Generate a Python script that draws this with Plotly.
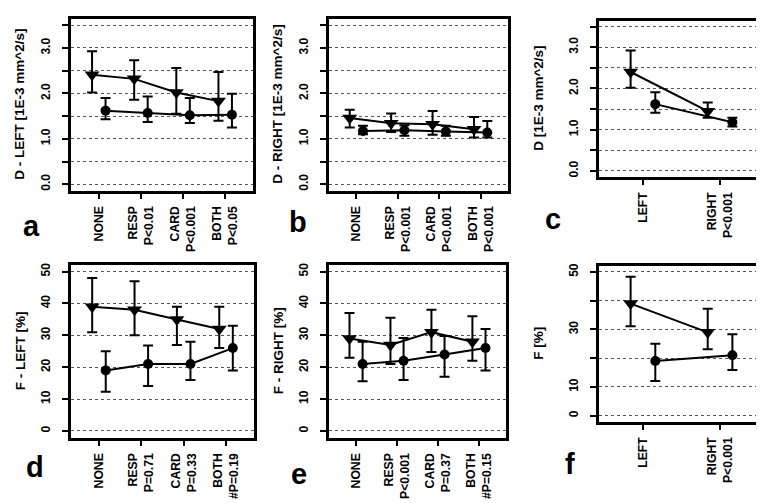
import plotly.graph_objects as go

# ---------------- data ----------------
lab_a = ["NONE", "RESP<br>P&lt;0.01", "CARD<br>P&lt;0.001", "BOTH<br>P&lt;0.05"]
lab_b = ["NONE", "RESP<br>P&lt;0.001", "CARD<br>P&lt;0.001", "BOTH<br>P&lt;0.001"]
lab_c = ["LEFT", "RIGHT<br>P&lt;0.001"]
lab_d = ["NONE", "RESP<br>P=0.71", "CARD<br>P=0.33", "BOTH<br>#P=0.19"]
lab_e = ["NONE", "RESP<br>P&lt;0.001", "CARD<br>P=0.37", "BOTH<br>#P=0.15"]
lab_f = ["LEFT", "RIGHT<br>P&lt;0.001"]

a_tri = [2.41, 2.32, 2.02, 1.83]
a_tri_hi = [2.93, 2.73, 2.56, 2.47]
a_tri_lo = [2.02, 1.86, 1.55, 1.40]
a_cir = [1.62, 1.57, 1.52, 1.53]
a_cir_hi = [1.90, 1.93, 1.90, 1.99]
a_cir_lo = [1.43, 1.37, 1.35, 1.25]

b_tri = [1.46, 1.34, 1.32, 1.21]
b_tri_hi = [1.64, 1.56, 1.61, 1.48]
b_tri_lo = [1.25, 1.15, 1.09, 1.03]
b_cir = [1.17, 1.19, 1.16, 1.14]
b_cir_hi = [1.29, 1.30, 1.29, 1.39]
b_cir_lo = [1.10, 1.07, 1.07, 1.03]

c_tri = [2.40, 1.45]
c_tri_hi = [2.92, 1.66]
c_tri_lo = [2.02, 1.29]
c_cir = [1.62, 1.18]
c_cir_hi = [1.91, 1.29]
c_cir_lo = [1.41, 1.08]

d_tri = [39, 38, 35, 32]
d_tri_hi = [48, 47, 39, 39]
d_tri_lo = [31, 30, 27, 26]
d_cir = [19, 21, 21, 26]
d_cir_hi = [25, 26.8, 28, 33]
d_cir_lo = [12.3, 14.1, 16, 19]

e_tri = [29, 27, 31, 28]
e_tri_hi = [37, 35.5, 38, 36]
e_tri_lo = [23, 21, 24.8, 22]
e_cir = [21, 22, 24, 26]
e_cir_hi = [28, 29.2, 29.8, 32]
e_cir_lo = [15.6, 16, 17, 19]

f_tri = [39, 29]
f_tri_hi = [48.3, 37.2]
f_tri_lo = [31.1, 23.1]
f_cir = [19, 21]
f_cir_hi = [25, 28.3]
f_cir_lo = [12.1, 15.9]

D_ticks = [0, 0.5, 1, 1.5, 2, 2.5, 3, 3.5]
D_ticktext = ["0.0", "", "1.0", "", "2.0", "", "3.0", ""]
F_ticks = [0, 10, 20, 30, 40, 50]
F_ticktext = ["0", "10", "20", "30", "40", "50"]
F_ticktext_f = ["0", "10", "", "30", "", "50"]

ytitles = ["D - LEFT [1E-3 mm^2/s]", "D - RIGHT [1E-3 mm^2/s]", "D [1E-3 mm^2/s]",
           "F - LEFT [%]", "F - RIGHT [%]", "F [%]"]
letters = ["a", "b", "c", "d", "e", "f"]

# ---------------- layout ----------------
W, H = 764, 503
FONT = "Liberation Sans, Arial, Helvetica, sans-serif"
boxes = [(63, 245, 8, 181), (321, 500, 8, 181), (591, 756, 10, 167),
         (63, 246, 256, 430), (321, 498, 256, 430), (591, 756, 257, 414)]
title_x = [12, 270, 531, 12, 270, 531]
letter_pos = [(23, 217), (290, 213), (545, 210), (27, 460), (291, 467), (562, 457)]

panels = [
    (lab_a, a_tri, a_tri_hi, a_tri_lo, a_cir, a_cir_hi, a_cir_lo, "D", D_ticktext),
    (lab_b, b_tri, b_tri_hi, b_tri_lo, b_cir, b_cir_hi, b_cir_lo, "D", D_ticktext),
    (lab_c, c_tri, c_tri_hi, c_tri_lo, c_cir, c_cir_hi, c_cir_lo, "D", D_ticktext),
    (lab_d, d_tri, d_tri_hi, d_tri_lo, d_cir, d_cir_hi, d_cir_lo, "F", F_ticktext),
    (lab_e, e_tri, e_tri_hi, e_tri_lo, e_cir, e_cir_hi, e_cir_lo, "F", F_ticktext),
    (lab_f, f_tri, f_tri_hi, f_tri_lo, f_cir, f_cir_hi, f_cir_lo, "F", F_ticktext_f),
]

OFF = 0.16
fig = go.Figure()
annotations = []
layout = {}

for i, (labs, tv, th, tl, cv, ch, cl, kind, ytt) in enumerate(panels):
    n = len(labs)
    xs = list(range(1, n + 1))
    ax = "" if i == 0 else str(i + 1)
    xref, yref = "x" + ax, "y" + ax
    for vals, hi, lo, sym, size, sgn in [(tv, th, tl, "triangle-down", 13, -1),
                                          (cv, ch, cl, "circle", 10, 1)]:
        fig.add_trace(go.Scatter(
            x=[x + sgn * OFF for x in xs], y=vals, xaxis=xref, yaxis=yref,
            mode="lines+markers",
            line=dict(color="black", width=2),
            marker=dict(symbol=sym, size=size, color="black"),
            error_y=dict(type="data", symmetric=False,
                         array=[h - v for h, v in zip(hi, vals)],
                         arrayminus=[v - l for l, v in zip(lo, vals)],
                         color="black", thickness=2, width=5),
            showlegend=False, hoverinfo="skip"))
    x0, x1, y0, y1 = boxes[i]
    xr = [0.34, 4.66] if n == 4 else [0.43, 2.57]
    yticks = D_ticks if kind == "D" else F_ticks
    yr = [-0.14, 3.64] if kind == "D" else [-2.08, 52.08]
    layout["xaxis" + ax] = dict(
        domain=[x0 / W, x1 / W], anchor=yref, range=xr,
        tickvals=xs, ticktext=labs, tickangle=-90,
        ticks="outside", ticklen=6, tickwidth=1.5, tickcolor="black",
        showline=True, linewidth=2.5, linecolor="black", mirror=True,
        showgrid=False, zeroline=False, ticklabelstandoff=2,
        tickfont=dict(family=FONT, size=12.2, color="black", weight="bold"))
    layout["yaxis" + ax] = dict(
        domain=[1 - y1 / H, 1 - y0 / H], anchor=xref, range=yr,
        tickvals=yticks, ticktext=ytt, tickangle=-90,
        ticks="outside", ticklen=6, tickwidth=1.5, tickcolor="black",
        showline=True, linewidth=2.5, linecolor="black", mirror=True,
        showgrid=True, gridcolor="#555555", griddash="dot", gridwidth=1,
        zeroline=False, ticklabelstandoff=7,
        tickfont=dict(family=FONT, size=12, color="black", weight="bold"))
    annotations.append(dict(
        text=ytitles[i], textangle=-90, xref="paper", yref="paper",
        x=title_x[i] / W, y=1 - (y0 + y1) / 2 / H, xanchor="center", yanchor="middle",
        showarrow=False, font=dict(family=FONT, size=13.5, color="black", weight="bold")))
    lx, ly = letter_pos[i]
    annotations.append(dict(
        text=letters[i], xref="paper", yref="paper",
        x=lx / W, y=1 - ly / H, xanchor="center", yanchor="middle",
        showarrow=False, font=dict(family=FONT, size=29, color="black", weight="bold")))

fig.update_layout(
    width=W, height=H, margin=dict(l=0, r=0, t=0, b=0),
    paper_bgcolor="white", plot_bgcolor="white",
    annotations=annotations, **layout)

fig.write_html("out.html")
